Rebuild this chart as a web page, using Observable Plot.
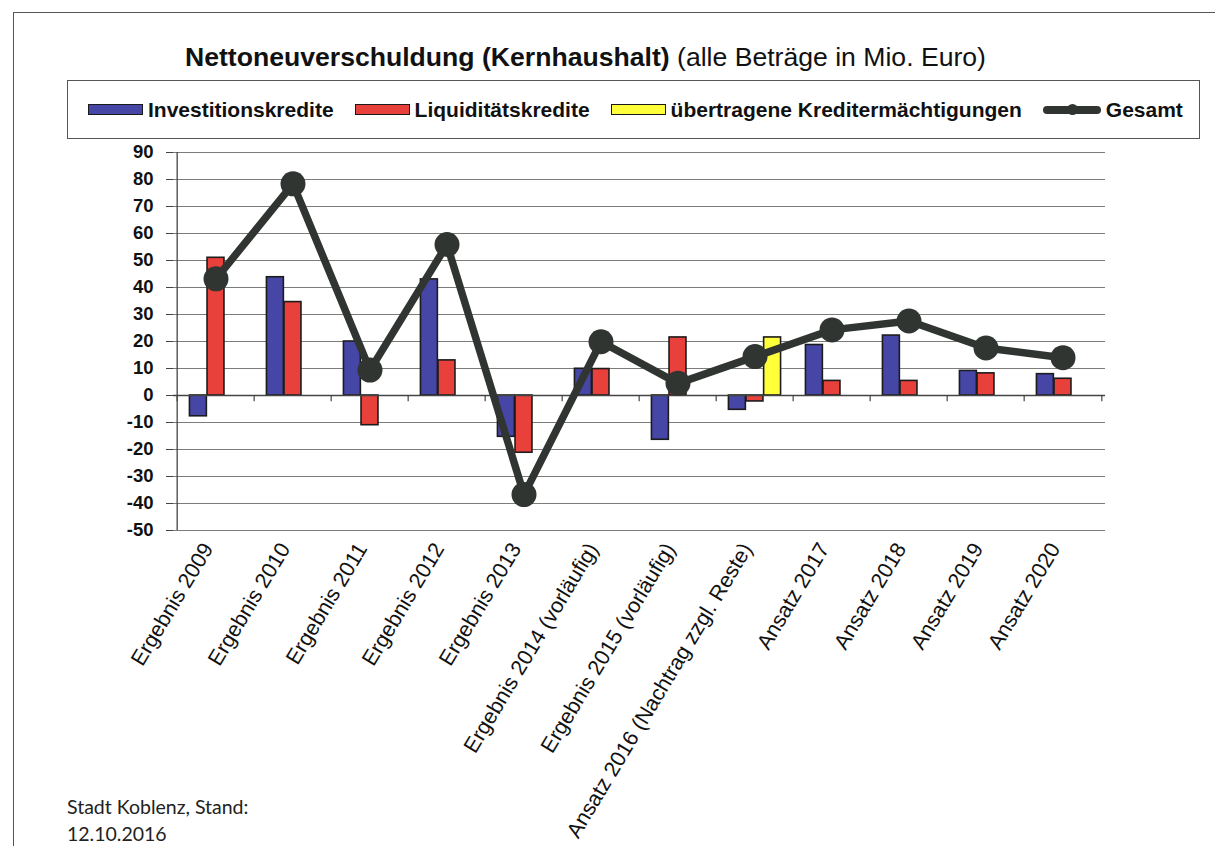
<!DOCTYPE html>
<html><head><meta charset="utf-8">
<script src="https://cdn.jsdelivr.net/npm/d3@7"></script>
<script src="https://cdn.jsdelivr.net/npm/@observablehq/plot@0.6"></script>
<style>
body{margin:0;background:#fff;}
#page{position:relative;width:1215px;height:846px;overflow:hidden;font-family:"Liberation Sans",Arial,sans-serif;color:#111;background:#fff;}
#frame{position:absolute;left:13px;top:12px;width:1400px;height:1200px;border:1.3px solid #555;}
#chart{position:absolute;left:0;top:0;}
#title{position:absolute;left:185px;top:44px;font-size:26.6px;line-height:26px;white-space:nowrap;}
#title b{font-weight:bold;}
#legend{position:absolute;left:67px;top:80px;width:1133px;height:59px;box-sizing:border-box;border:1px solid #555;background:#fff;display:flex;align-items:center;padding-left:20px;gap:21px;}
.item{display:flex;align-items:center;gap:5px;font-size:21px;font-weight:bold;white-space:nowrap;}
.sw{width:55px;height:11px;box-sizing:border-box;border:1.8px solid #1a1a1a;}
.ln{position:relative;width:58px;height:8px;border-radius:4px;}
.ln i{position:absolute;left:24px;top:-1.5px;width:11px;height:11px;border-radius:6px;}
#caption{position:absolute;left:67px;top:794px;font-family:Lato,"Noto Sans",sans-serif;font-size:19.5px;line-height:26.7px;color:#222;}
</style></head>
<body><div id="page">
<div id="frame"></div>
<div id="chart"></div>
<div id="title"></div>
<div id="legend"></div>
<div id="caption"></div>
</div>
<script>
// ---- data ----
const categories = ["Ergebnis 2009","Ergebnis 2010","Ergebnis 2011","Ergebnis 2012","Ergebnis 2013","Ergebnis 2014 (vorläufig)","Ergebnis 2015 (vorläufig)","Ansatz 2016 (Nachtrag zzgl. Reste)","Ansatz 2017","Ansatz 2018","Ansatz 2019","Ansatz 2020"];
const investitionskredite = [-7.7, 43.8, 20, 43, -15.3, 9.9, -16.4, -5.3, 18.7, 22.2, 9.1, 7.9];
const liquiditaetskredite = [51, 34.6, -11, 13, -21.2, 9.8, 21.5, -2.2, 5.4, 5.4, 8.2, 6.2];
const uebertragene = [null, null, null, null, null, null, null, 21.5, null, null, null, null];
const gesamt = [43.2, 78.4, 9.4, 55.9, -36.7, 19.9, 4.5, 14.4, 24.3, 27.6, 17.6, 14];
const seriesNames = ["Investitionskredite","Liquiditätskredite","übertragene Kreditermächtigungen","Gesamt"];
const yTicks = [-50,-40,-30,-20,-10,0,10,20,30,40,50,60,70,80,90];
const titleBold = "Nettoneuverschuldung (Kernhaushalt)";
const titleRest = "(alle Beträge in Mio. Euro)";
const captionLines = ["Stadt Koblenz, Stand:", "12.10.2016"];

// ---- styles ----
const colors = ["#4646a6", "#e8413b", "#ffff3a", "#313532"];
const W = 1215, H = 846, mL = 173, mR = 110, mT = 152, mB = 316;
const bw = (W - mL - mR) / categories.length;
const barW = 17.6;

const rows = categories.map((c, i) => ({cat: c, inv: investitionskredite[i], liq: liquiditaetskredite[i], ueb: uebertragene[i], ges: gesamt[i]}));
const keys = ["inv", "liq", "ueb"];
const barMarks = keys.map((k, j) => {
  const left = bw / 2 - 1.5 * barW + j * barW;
  return Plot.barY(rows.filter(d => d[k] != null), {
    x: "cat", y: k, fill: colors[j], stroke: "#1c1c1c", strokeWidth: 1.6,
    insetLeft: left, insetRight: bw - left - barW
  });
});

const chart = Plot.plot({
  width: W, height: H,
  marginLeft: mL, marginRight: mR, marginTop: mT, marginBottom: mB,
  style: {background: "transparent", fontFamily: "'Liberation Sans', Arial, sans-serif", color: "#111"},
  x: {domain: categories, padding: 0, axis: null},
  y: {domain: [-50, 90], axis: null},
  marks: [
    Plot.ruleY(yTicks, {stroke: "#7c7c7c", strokeWidth: 1}),
    Plot.ruleX([categories[0]], {y1: -50, y2: 90, dx: -bw / 2, stroke: "#444", strokeWidth: 1.3}),
    Plot.axisY({ticks: yTicks, tickSize: 7, tickPadding: 13, fontSize: 18.5, fontWeight: "bold", tickFormat: d => String(d), stroke: "#444"}),
    ...barMarks,
    Plot.ruleY([0], {stroke: "#444", strokeWidth: 1.3}),
    Plot.ruleX(categories, {x: d => d, y1: 0, y2: -2.3, dx: -bw / 2, stroke: "#444", strokeWidth: 1.2}),
    Plot.ruleX([categories[categories.length - 1]], {x: d => d, y1: 0, y2: -2.3, dx: bw / 2, stroke: "#444", strokeWidth: 1.2}),
    Plot.line(rows, {x: "cat", y: "ges", stroke: colors[3], strokeWidth: 7.5, strokeLinejoin: "round"}),
    Plot.dot(rows, {x: "cat", y: "ges", r: 12.5, fill: colors[3], stroke: "none"}),
    Plot.text(categories, {x: d => d, text: d => d, frameAnchor: "bottom", rotate: -59, textAnchor: "end", dx: -2, dy: 18, fontSize: 21.5, fill: "#111"})
  ]
});
document.getElementById("chart").appendChild(chart);

// title
const t = document.getElementById("title");
t.innerHTML = "";
const tb = document.createElement("b"); tb.textContent = titleBold; t.appendChild(tb);
t.appendChild(document.createTextNode(" " + titleRest));

// legend
const lg = document.getElementById("legend");
seriesNames.forEach((name, i) => {
  const it = document.createElement("div"); it.className = "item";
  if (i < 3) {
    const sw = document.createElement("span"); sw.className = "sw"; sw.style.background = colors[i]; it.appendChild(sw);
  } else {
    const ln = document.createElement("span"); ln.className = "ln"; ln.style.background = colors[3];
    const dot = document.createElement("i"); dot.style.background = colors[3]; ln.appendChild(dot); it.appendChild(ln);
  }
  const tx = document.createElement("span"); tx.textContent = name; it.appendChild(tx);
  lg.appendChild(it);
});

// caption
document.getElementById("caption").innerHTML = captionLines.map(s => s.replace(/&/g, "&amp;")).join("<br>");
</script>
</body></html>
